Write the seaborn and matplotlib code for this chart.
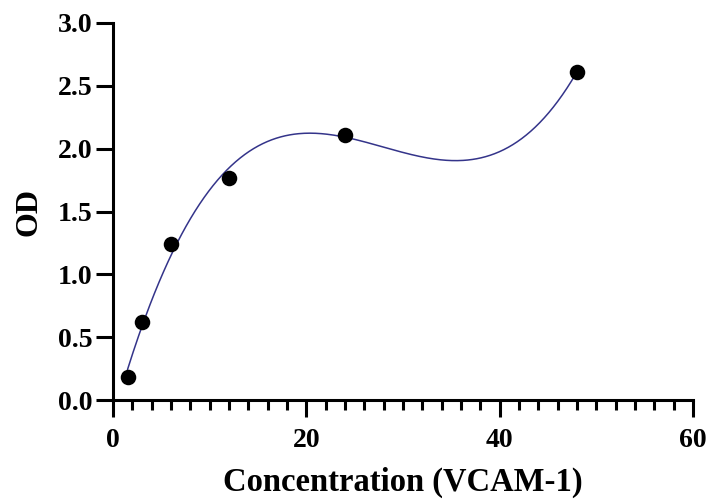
import numpy as np
import pandas as pd
import matplotlib
matplotlib.use("Agg")
import matplotlib.pyplot as plt
import seaborn as sns
from matplotlib.ticker import MultipleLocator

# Standard curve readings
concentration = [1.5, 3.0, 6.0, 12.0, 24.0, 48.0]
od = [0.18, 0.62, 1.24, 1.77, 2.11, 2.61]

x_ticks = [0, 20, 40, 60]
y_ticks = [0.0, 0.5, 1.0, 1.5, 2.0, 2.5, 3.0]

# Third-order polynomial fit of OD against concentration
coeffs = np.polyfit(concentration, od, 3)
xs = np.linspace(min(concentration), max(concentration), 400)

points = pd.DataFrame({"Concentration": concentration, "OD": od})
curve = pd.DataFrame({"Concentration": xs, "OD": np.polyval(coeffs, xs)})

sns.set_theme(style="ticks")
plt.rcParams["font.family"] = ["Liberation Serif", "DejaVu Serif"]
plt.rcParams["font.weight"] = "bold"
plt.rcParams["text.color"] = "black"
plt.rcParams["axes.labelcolor"] = "black"
plt.rcParams["xtick.color"] = "black"
plt.rcParams["ytick.color"] = "black"

fig = plt.figure(figsize=(7.09, 5.0), dpi=100)
ax = fig.add_axes([0.1594, 0.2, 0.818, 0.754])

sns.lineplot(data=curve, x="Concentration", y="OD", ax=ax,
             color="#34348a", linewidth=1.1)
sns.scatterplot(data=points, x="Concentration", y="OD", ax=ax,
                color="black", s=125, edgecolor="black", linewidth=0, zorder=3)

ax.set_xlim(0, 60)
ax.set_ylim(0, 3.0)
ax.set_xticks(x_ticks)
ax.set_yticks(y_ticks)
ax.set_xticklabels([str(v) for v in x_ticks])
ax.set_yticklabels([f"{v:.1f}" for v in y_ticks])
ax.xaxis.set_minor_locator(MultipleLocator(2))

for side in ("top", "right"):
    ax.spines[side].set_visible(False)
for side in ("left", "bottom"):
    ax.spines[side].set_linewidth(2.2)
    ax.spines[side].set_color("black")

ax.tick_params(axis="both", which="major", length=12, width=2.2,
               colors="black", labelsize=20, pad=3)
ax.tick_params(axis="x", which="minor", length=7, width=2.2, color="black")
ax.tick_params(axis="x", which="major", pad=8)
for lab in ax.get_xticklabels() + ax.get_yticklabels():
    lab.set_fontweight("bold")
    lab.set_color("black")

ax.set_xlabel("Concentration (VCAM-1)", fontsize=23.5, fontweight="bold",
              labelpad=10, color="black")
ax.set_ylabel("OD", fontsize=23, fontweight="bold", labelpad=10, color="black")

fig.savefig("out.png", dpi=100, facecolor="white")
